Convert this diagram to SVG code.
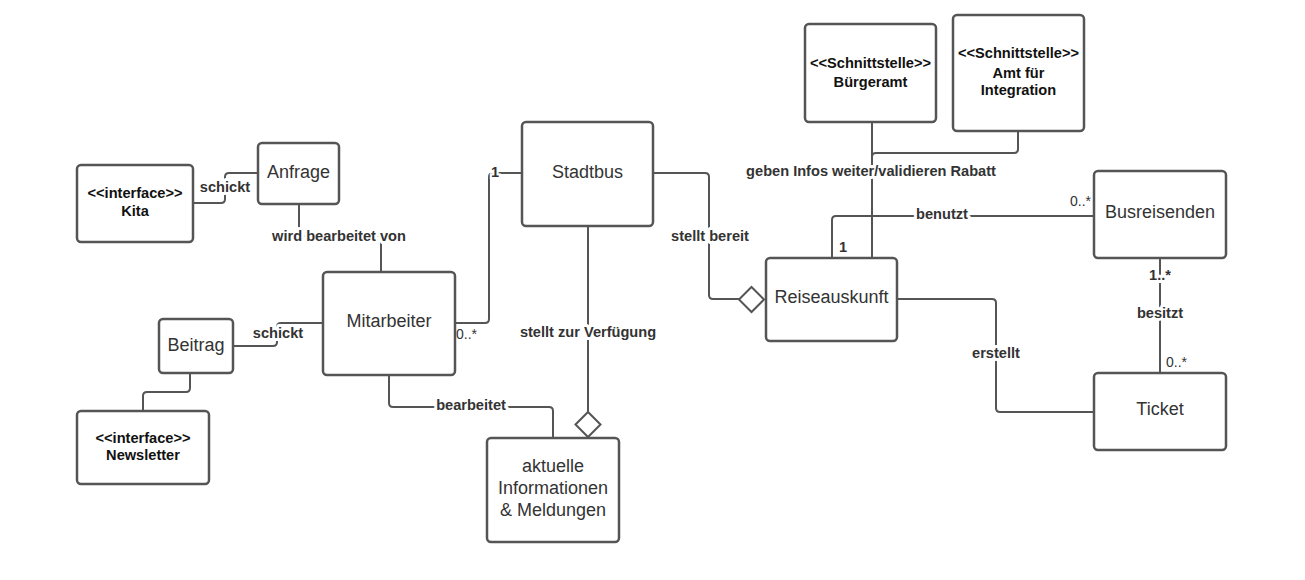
<svg xmlns="http://www.w3.org/2000/svg" width="1305" height="580" viewBox="0 0 1305 580">
<style>
.box{fill:#fff;stroke:#555;stroke-width:2.5}
.ln{fill:none;stroke:#555;stroke-width:2;stroke-linejoin:round}
.dia{fill:#fff;stroke:#555;stroke-width:2}
.nm{font-family:"Liberation Sans",Arial,sans-serif;font-size:18px;fill:#333;text-anchor:middle}
.st{font-family:"Liberation Sans",Arial,sans-serif;font-size:14.6px;font-weight:bold;fill:#111;text-anchor:middle}
.lb{font-family:"Liberation Sans",Arial,sans-serif;font-size:14.6px;font-weight:bold;fill:#333;text-anchor:middle;stroke:#fff;stroke-width:6;paint-order:stroke;stroke-linejoin:round}
.mu{font-family:"Liberation Sans",Arial,sans-serif;font-size:14px;fill:#333}
.mb{font-family:"Liberation Sans",Arial,sans-serif;font-size:14.6px;font-weight:bold;fill:#333}
</style>
<rect width="1305" height="580" fill="#fff"/>
<g id="connectors">
<path class="ln" d="M193,203 H221 Q225,203 225,199 V177 Q225,173 229,173 H258"/>
<path class="ln" d="M299,204 V236 H381 V272"/>
<path class="ln" d="M233,346 H273 Q277,346 277,342 V327 Q277,323 281,323 H323"/>
<path class="ln" d="M190,373 V388 Q190,392 186,392 H147 Q143,392 143,396 V411"/>
<path class="ln" d="M455,323 H485 Q489,323 489,319 V177 Q489,173 493,173 H522"/>
<path class="ln" d="M389,375 V403 Q389,407 393,407 H549 Q553,407 553,411 V438"/>
<path class="ln" d="M588,226 V412"/>
<path class="ln" d="M653,173 H705 Q709,173 709,177 V295 Q709,299 713,299 H739"/>
<path class="ln" d="M872,122 V258"/>
<path class="ln" d="M1018,131 V149 Q1018,153 1014,153 H876 Q872,153 872,157"/>
<path class="ln" d="M832,258 V220 Q832,216 836,216 H1094"/>
<path class="ln" d="M897,299 H992 Q996,299 996,303 V408 Q996,412 1000,412 H1094"/>
<path class="ln" d="M1160,258 V373"/>
<polygon class="dia" points="739,299.5 751.5,287 764,299.5 751.5,312"/>
<polygon class="dia" points="575.5,424.5 588,412 600.5,424.5 588,437"/>
<text class="lb" x="225" y="192">schickt</text>
<text class="lb" x="339" y="241">wird bearbeitet von</text>
<text class="lb" x="278" y="338">schickt</text>
<text class="lb" x="471" y="410">bearbeitet</text>
<text class="lb" x="588" y="337">stellt zur Verfügung</text>
<text class="lb" x="710" y="241">stellt bereit</text>
<text class="lb" x="871" y="176">geben Infos weiter/validieren Rabatt</text>
<text class="lb" x="942" y="219">benutzt</text>
<text class="lb" x="996" y="358">erstellt</text>
<text class="lb" x="1160" y="318">besitzt</text>
<text class="mu" x="456" y="339">0..*</text>
<text class="mb" x="491" y="177" stroke="#fff" stroke-width="4" paint-order="stroke">1</text>
<text class="mb" x="839" y="252">1</text>
<text class="mu" x="1070" y="206">0..*</text>
<text class="lb" x="1160" y="280">1..*</text>
<text class="mu" x="1166" y="367">0..*</text>
</g>
<g id="kita"><rect class="box" x="77" y="165" width="116" height="77" rx="4"/><text class="st" x="135" y="198">&lt;&lt;interface&gt;&gt;</text><text class="st" x="135" y="216">Kita</text></g>
<g id="anfrage"><rect class="box" x="258" y="143" width="81" height="61" rx="4"/><text class="nm" x="298.5" y="178">Anfrage</text></g>
<g id="mitarbeiter"><rect class="box" x="323" y="272" width="132" height="103" rx="4"/><text class="nm" x="389" y="327">Mitarbeiter</text></g>
<g id="beitrag"><rect class="box" x="159" y="319" width="74" height="54" rx="4"/><text class="nm" x="196" y="351">Beitrag</text></g>
<g id="newsletter"><rect class="box" x="77" y="411" width="132" height="73" rx="4"/><text class="st" x="143" y="443">&lt;&lt;interface&gt;&gt;</text><text class="st" x="143" y="460">Newsletter</text></g>
<g id="stadtbus"><rect class="box" x="522" y="122" width="131" height="104" rx="4"/><text class="nm" x="587.5" y="178">Stadtbus</text></g>
<g id="aktuelle"><rect class="box" x="487" y="438" width="132" height="104" rx="4"/><text class="nm" x="553" y="472">aktuelle</text><text class="nm" x="553" y="494">Informationen</text><text class="nm" x="553" y="516">&amp; Meldungen</text></g>
<g id="buergeramt"><rect class="box" x="805" y="24" width="131" height="98" rx="4"/><text class="st" x="870.5" y="68">&lt;&lt;Schnittstelle&gt;&gt;</text><text class="st" x="870.5" y="87">Bürgeramt</text></g>
<g id="amt"><rect class="box" x="953" y="15" width="131" height="116" rx="4"/><text class="st" x="1018.5" y="58">&lt;&lt;Schnittstelle&gt;&gt;</text><text class="st" x="1018.5" y="78">Amt für</text><text class="st" x="1018.5" y="95">Integration</text></g>
<g id="reiseauskunft"><rect class="box" x="766" y="258" width="131" height="83" rx="4"/><text class="nm" x="831.5" y="303">Reiseauskunft</text></g>
<g id="busreisenden"><rect class="box" x="1094" y="171" width="132" height="87" rx="4"/><text class="nm" x="1160" y="218">Busreisenden</text></g>
<g id="ticket"><rect class="box" x="1094" y="373" width="132" height="77" rx="4"/><text class="nm" x="1160" y="415">Ticket</text></g>
</svg>
